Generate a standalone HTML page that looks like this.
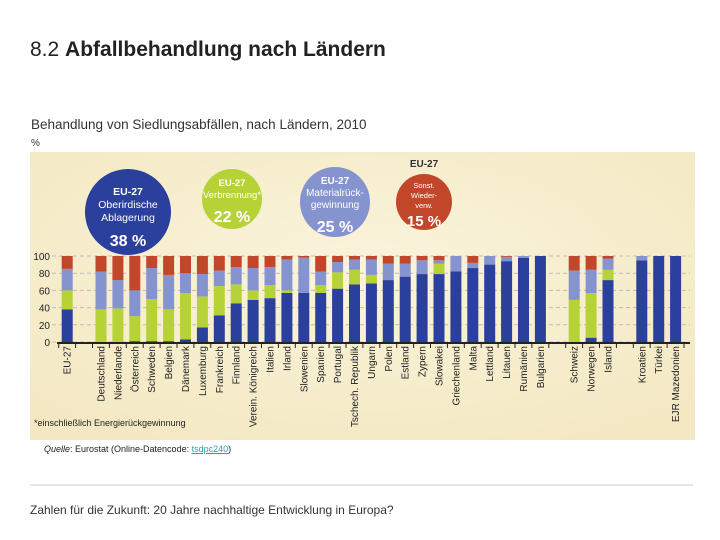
<!DOCTYPE html>
<html><head><meta charset="utf-8"><style>
body{margin:0;width:720px;height:540px;background:#fff;font-family:"Liberation Sans",sans-serif;overflow:hidden;position:relative}
.t{position:absolute;white-space:nowrap}
</style></head><body>
<div class="t" style="left:30px;top:38px;font-size:21px;color:#222">8.2 <b>Abfallbehandlung nach Ländern</b></div>
<div class="t" style="left:31px;top:117px;font-size:13.5px;color:#333">Behandlung von Siedlungsabfällen, nach Ländern, 2010</div>
<div class="t" style="left:31px;top:138px;font-size:10px;color:#333">%</div>
<svg id="c" width="720" height="540" style="position:absolute;left:0;top:0" font-family="Liberation Sans, sans-serif">
<defs><radialGradient id="bg" cx="0.5" cy="0.4" r="0.7"><stop offset="0" stop-color="#fbf4dc"/><stop offset="1" stop-color="#f3e8c2"/></radialGradient></defs>
<rect x="30" y="152" width="665" height="288" fill="url(#bg)"/>
<line x1="30" y1="485" x2="693" y2="485" stroke="#ccc"/>
<text x="34" y="426" font-size="9" fill="#222">*einschließlich Energierückgewinnung</text>
<text x="30" y="514" font-size="12" fill="#333">Zahlen für die Zukunft: 20 Jahre nachhaltige Entwicklung in Europa?</text>
<g id="bubbles"></g><g id="grid"></g><g id="bars"></g><g id="labels"></g>
</svg>
<div class="t" style="left:44px;top:444px;font-size:9px;color:#222"><i>Quelle</i>: Eurostat (Online-Datencode: <span style="color:#2a9fb0;text-decoration:underline">tsdpc240</span>)</div>
<script>
const countries=["EU-27","","Deutschland","Niederlande","Österreich","Schweden","Belgien","Dänemark","Luxemburg","Frankreich","Finnland","Verein. Königreich","Italien","Irland","Slowenien","Spanien","Portugal","Tschech. Republik","Ungarn","Polen","Estland","Zypern","Slowakei","Griechenland","Malta","Lettland","Litauen","Rumänien","Bulgarien","","Schweiz","Norwegen","Island","","Kroatien","Türkei","EJR Mazedonien"];
const landfill=[38,null,0,0,1,1,1,3,17,31,45,49,51,57,57,57,62,67,68,72,76,79,79,82,86,90,94,98,100,null,0,5,72,null,95,100,100];
const incineration=[22,null,38,39,29,49,37,54,36,34,22,11,15,3,0,9,19,17,10,0,0,0,12,0,0,0,0,0,0,null,49,52,12,null,0,0,0];
const recycling=[25,null,44,33,30,36,40,23,26,18,20,26,21,36,41,16,12,12,18,19,15,16,4,18,6,10,5,2,0,null,34,27,13,null,5,0,0];
const composting=[15,null,18,28,40,14,22,20,21,17,13,14,13,4,2,18,7,4,4,9,9,5,5,0,8,0,1,0,0,null,17,16,3,null,0,0,0];
const yTicks=[0,20,40,60,80,100];
const NS="http://www.w3.org/2000/svg";
const x0=61.7,pitch=16.9,bw=11,yB=342,yT=256;
const xs=i=>x0+i*pitch;
const ys=v=>yB-(v/100)*(yB-yT);
function mk(t,a,p){const e=document.createElementNS(NS,t);for(const k in a)e.setAttribute(k,a[k]);p.appendChild(e);return e;}
const grid=document.getElementById('grid'),bars=document.getElementById('bars'),labels=document.getElementById('labels'),bub=document.getElementById('bubbles');
yTicks.forEach(v=>{
 const l=mk('line',{x1:52,x2:690,y1:ys(v),y2:ys(v),stroke:'#bbb','stroke-dasharray':'4,3'},grid);
 
 
 const t=mk('text',{x:50,y:ys(v)+4,'font-size':10,'text-anchor':'end',fill:'#222'},grid);t.textContent=v;
 
 
});
const cols=['#2b3f9c','#b6d236','#8593cf','#c2472a'];
const series=[landfill,incineration,recycling,composting];
const names=['landfill','incineration','recycling','composting'];
countries.forEach((c,i)=>{
 if(!c)return;
 let acc=0;
 series.forEach((s,k)=>{
  const v=s[i]||0;if(v<=0)return;
  const r=mk('rect',{x:xs(i),y:ys(acc+v),width:bw,height:ys(acc)-ys(acc+v),fill:cols[k]},bars);
  
  
  acc+=v;
 });
 const t=mk('text',{transform:`translate(${xs(i)+bw/2+3.5},346) rotate(-90)`,'font-size':10,'text-anchor':'end',fill:'#222'},labels);
 t.textContent=c;
 
 
});
const ax=mk('line',{x1:57,x2:690,y1:yB+1,y2:yB+1,stroke:'#222','stroke-width':2},grid);


for(let i=0;i<=countries.length;i++){
 const tk=mk('line',{x1:xs(i)-3,x2:xs(i)-3,y1:yB,y2:yB+6,stroke:'#222'},grid);
 
 
}
const bdata=[[128,212,43,cols[0],['EU-27','Oberirdische','Ablagerung'],'38 %',13,10.5],[232,199,30,cols[1],['EU-27','Verbrennung*'],'22 %',12,9.5],[335,202,35,cols[2],['EU-27','Materialrück-','gewinnung'],'25 %',12,10],[424,202,28,cols[3],['Sonst.','Wieder-','verw.'],'15 %',10,7.5]];
bdata.forEach(b=>{
 const g=mk('g',{},bub);
 
 
 mk('circle',{cx:b[0],cy:b[1],r:b[2],fill:b[3]},g);
 const n=b[4].length,lh=b[6];
 const sy=b[1]-b[2]+(b[2]>40?26:(b[2]<30?14:17));
 b[4].forEach((s,j)=>{const t=mk('text',{x:b[0],y:sy+j*lh,'font-size':b[7],'text-anchor':'middle',fill:'#fff','font-weight':j==0&&b[2]>=30?'bold':'normal'},g);t.textContent=s;});
 const p=mk('text',{x:b[0],y:sy+n*lh+(b[2]<30?8:12),'font-size':b[2]<30?15:16,'font-weight':'bold','text-anchor':'middle',fill:'#fff'},g);p.textContent=b[5];
});
const e=mk('text',{x:424,y:167,'font-size':10,'text-anchor':'middle',fill:'#333','font-weight':'bold'},bub);e.textContent='EU-27';


</script>
</body></html>
